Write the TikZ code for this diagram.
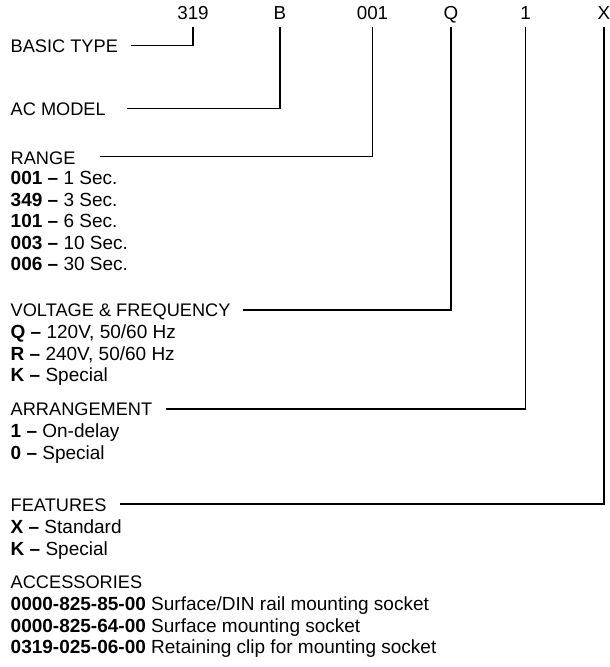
\documentclass[tikz,border=0pt]{standalone}
\usepackage{fontspec}
\setmainfont{Liberation Sans}
\begin{document}
\begin{tikzpicture}[x=1pt,y=-1pt,
  head/.style={anchor=base west, inner sep=0pt, font=\fontsize{18.2}{21}\selectfont},
  txt/.style={anchor=base west, inner sep=0pt, font=\fontsize{19}{21}\selectfont},
  code/.style={anchor=base, inner sep=0pt, text depth=0pt, font=\fontsize{18.8}{21}\selectfont},
  conn/.style={line width=1.2pt}]
\useasboundingbox (0,0) rectangle (610,667);
% top code letters
\node[code] (c319) at (193,19.4) {319};
\node[code] (cB)   at (280,19.4) {B};
\node[code] (c001) at (372.5,19.4) {001};
\node[code] (cQ)   at (451,19.4) {Q};
\node[code] (c1)   at (525.5,19.4) {1};
\node[code] (cX)   at (604,19.4) {X};
% headings and items
\node[head] (bt)  at (10.5,52.5) {BASIC TYPE};
\node[head] (ac)  at (10.5,115) {AC MODEL};
\node[head] (rg)  at (10.5,164) {RANGE};
\node[txt]  (r1)  at (10.5,184.5) {\textbf{001 –} 1 Sec.};
\node[txt]  (r2)  at (10.5,206) {\textbf{349 –} 3 Sec.};
\node[txt]  (r3)  at (10.5,227.5) {\textbf{101 –} 6 Sec.};
\node[txt]  (r4)  at (10.5,249) {\textbf{003 –} 10 Sec.};
\node[txt]  (r5)  at (10.5,270.5) {\textbf{006 –} 30 Sec.};
\node[head] (vf)  at (10.5,316.5) {VOLTAGE \& FREQUENCY};
\node[txt]  (v1)  at (10.5,338.5) {\textbf{Q –} 120V, 50/60 Hz};
\node[txt]  (v2)  at (10.5,360) {\textbf{R –} 240V, 50/60 Hz};
\node[txt]  (v3)  at (10.5,381.5) {\textbf{K –} Special};
\node[head] (ar)  at (10.5,415.5) {ARRANGEMENT};
\node[txt]  (a1)  at (10.5,437.5) {\textbf{1 –} On-delay};
\node[txt]  (a2)  at (10.5,459) {\textbf{0 –} Special};
\node[head] (ft)  at (10.5,511) {FEATURES};
\node[txt]  (f1)  at (10.5,533.5) {\textbf{X –} Standard};
\node[txt]  (f2)  at (10.5,555) {\textbf{K –} Special};
\node[head] (acc) at (10.5,588.5) {ACCESSORIES};
\node[txt]  (p1)  at (10.5,610.5) {\textbf{0000-825-85-00} Surface/DIN rail mounting socket};
\node[txt]  (p2)  at (10.5,632) {\textbf{0000-825-64-00} Surface mounting socket};
\node[txt]  (p3)  at (10.5,653.5) {\textbf{0319-025-06-00} Retaining clip for mounting socket};
% connector start points
\coordinate (s1) at (131,45.5);
\coordinate (s2) at (127,108.5);
\coordinate (s3) at (100,156.5);
\coordinate (s4) at (243,310);
\coordinate (s5) at (166,409);
\coordinate (s6) at (120,504);
\draw[conn] (s1) -| ([yshift=-7.5pt]c319.south);
\draw[conn] (s2) -| ([yshift=-7.5pt]cB.south);
\draw[conn] (s3) -| ([yshift=-7.5pt]c001.south);
\draw[conn] (s4) -| ([yshift=-7.5pt]cQ.south);
\draw[conn] (s5) -| ([yshift=-7.5pt]c1.south);
\draw[conn] (s6) -| ([yshift=-7.5pt]cX.south);
\end{tikzpicture}
\end{document}
